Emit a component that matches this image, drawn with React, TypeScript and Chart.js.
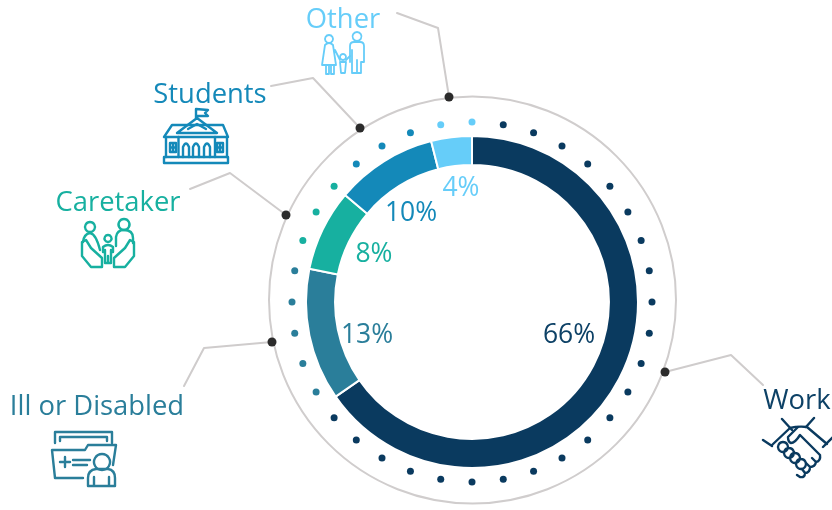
import React, { useEffect, useRef } from "react";
import { Chart, registerables } from "chart.js";

Chart.register(...registerables);

const categories = ["Work", "Ill or Disabled", "Caretaker", "Students", "Other"];
const shares = [66, 13, 8, 10, 4];
const shareLabels = ["66%", "13%", "8%", "10%", "4%"];
const colors = ["#0a3a5f", "#2a7e9a", "#17b0a0", "#1489b9", "#66cdf9"];
const textColors = ["#0d4166", "#2a7e9a", "#17b0a0", "#1489b9", "#66cdf9"];
const dotsPerCategory = [23, 5, 3, 3, 2];

const SIZE_W = 832;
const SIZE_H = 510;
const FONT = '"Open Sans"';

const dotSpokes = Array.from({ length: 36 }, (_, i) => `${i * 10}`);
const dotColors: string[] = [colors[4]];
dotsPerCategory.forEach((n, c) => {
  const count = c === 4 ? 1 : n;
  for (let i = 0; i < count; i++) dotColors.push(colors[c]);
});

const categoryLabelPos = [
  [797, 409],
  [97, 415],
  [118, 211],
  [210, 103],
  [343, 28],
];
const shareLabelPos = [
  [569, 343],
  [367, 343],
  [374, 262],
  [411, 221],
  [461, 196],
];
const leaders = [
  [[665, 372], [731, 355], [763, 385]],
  [[272, 342], [204, 348], [184, 386]],
  [[286, 215], [230, 173], [190, 189]],
  [[360, 128], [313, 78], [271, 86]],
  [[449, 97], [438, 28], [397, 13]],
];
const icons: string[][] = [
  [
    "M763,440 L772,446 M782,419 L792,430 M814,418 L806,427 M835,435 L823,447",
    "M772,445 L790,428 Q798,426 807,427 L827,444",
    "M798,427 L788,437 Q788,442 791,443 Q795,443 800,435 L820,455 Q821,461 816,462 L812,458 M816,462 Q815,467 810,467 L806,463 M810,467 Q810,473 805,473 L802,469 M805,473 Q805,478 800,477 L797,475",
    "M783,452 A5,5 0 1 0 782.99,452 Z M789,458 A5,5 0 1 0 788.99,458 Z M795,463 A5,5 0 1 0 794.99,463 Z M801,469 A5,5 0 1 0 800.99,469 Z",
  ],
  [
    "M55,443 L55,432 L112,432 L112,443 M60,441 L60,437 L107,437 L107,441",
    "M83,478 L55,478 L52,450 L85,450 L88,445 L116,445 L113,465",
    "M60,462 L70,462 M65,457 L65,467 M73,460 L90,460 M73,465 L87,465",
    "M102,454 A8,8 0 1 0 102.01,454 Z",
    "M88,486 L88,478 Q88,470 96,469 L108,469 Q115,470 115,478 L115,486 Z M94,486 L94,477 M109,486 L109,477",
  ],
  [
    "M90,222 A5,5 0 1 0 90.01,222 Z M124,219 A5.5,5.5 0 1 0 124.01,219 Z M108,235 A3.5,3.5 0 1 0 108.01,235 Z",
    "M83,242 Q84,234 90,233 Q96,234 100,250 M116,246 L116,237 Q117,230 124,230 Q133,230 133,238 L133,243",
    "M103,252 L103,247 Q108,243 113,247 L113,252 M105,250 L105,263 L111,263 L111,250 M108,256 L108,263",
    "M86,240 L91,248 L102,258 L102,267 L91,267 L82,256 L82,242 L86,240 Z",
    "M130,240 L125,248 L114,258 L114,267 L125,267 L134,256 L134,242 L130,240 Z",
  ],
  [
    "M164,157 L228,157 L228,163 L164,163 Z",
    "M166,137 L166,157 M227,137 L227,157 M164,137 L178,137 L215,137 L228,137 L223,125 L172,125 Z",
    "M177,133 L197,118 L217,133 Z M188,129 L197,124 L206,129 M196,118 L196,109 L208,110 L205,113 L208,116 L196,116",
    "M178.5,137 L178.5,157 M215,137 L215,157",
    "M183,157 L183,147 Q186,140 189,147 L189,157 M193,157 L193,147 Q196,140 199,147 L199,157 M204,157 L204,147 Q207,140 210,147 L210,157",
    "M170,143 L176,143 L176,152 L170,152 Z M173,143 L173,152 M170,147.5 L176,147.5 M217,143 L223,143 L223,152 L217,152 Z M220,143 L220,152 M217,147.5 L223,147.5",
  ],
  [
    "M329,35 A4,4 0 1 0 329.01,35 Z M357,32 A4.5,4.5 0 1 0 357.01,32 Z M343,54 A3,3 0 1 0 343.01,54 Z",
    "M325,45 L322,65 L336,65 L333,45 Q329,41 325,45 Z M326,65 L326,74 L329,74 L329,65 M331,65 L331,74 L334,74 L334,65 M335,50 L340,60",
    "M350,62 L350,46 Q350,42 354,42 L360,42 Q364,42 364,46 L364,62 L361,62 L361,73 L352,73 L352,50 M357,60 L357,73",
    "M346,60 L350,56 M340,62 L346,62 L345,73 L341,73 Z",
  ],
];

const outerRing = {
  id: "outerRing",
  beforeDatasetsDraw(chart: any) {
    const { ctx } = chart;
    ctx.save();
    ctx.strokeStyle = "#d0cdcd";
    ctx.lineWidth = 2;
    ctx.beginPath();
    ctx.arc(472.5, 300, 203.5, 0, Math.PI * 2);
    ctx.stroke();
    ctx.restore();
  },
};

const overlay = {
  id: "overlay",
  afterDatasetsDraw(chart: any) {
    const { ctx } = chart;
    ctx.save();
    ctx.lineCap = "round";
    ctx.lineJoin = "round";

    leaders.forEach((pts) => {
      ctx.strokeStyle = "#cfcccc";
      ctx.lineWidth = 2;
      ctx.beginPath();
      pts.forEach(([x, y], i) => (i ? ctx.lineTo(x, y) : ctx.moveTo(x, y)));
      ctx.stroke();
      ctx.fillStyle = "#2b2b2b";
      ctx.beginPath();
      ctx.arc(pts[0][0], pts[0][1], 4.5, 0, Math.PI * 2);
      ctx.fill();
    });

    ctx.textAlign = "center";
    ctx.textBaseline = "alphabetic";
    categories.forEach((name, i) => {
      ctx.fillStyle = textColors[i];
      ctx.font = `27.4px ${FONT}`;
      ctx.fillText(name, categoryLabelPos[i][0], categoryLabelPos[i][1]);
      ctx.font = `26.5px ${FONT}`;
      ctx.fillText(shareLabels[i], shareLabelPos[i][0], shareLabelPos[i][1]);
    });

    icons.forEach((group, i) => {
      ctx.strokeStyle = colors[i];
      ctx.lineWidth = i === 4 ? 1.8 : 2.4;
      group.forEach((d) => ctx.stroke(new Path2D(d)));
    });
    ctx.restore();
  },
};

export default function App() {
  const ref = useRef<HTMLCanvasElement>(null);
  useEffect(() => {
    const chart = new Chart(ref.current as HTMLCanvasElement, {
      type: "radar",
      plugins: [outerRing, overlay],
      data: {
        labels: dotSpokes,
        datasets: [
          {
            type: "doughnut",
            data: shares,
            backgroundColor: colors,
            borderColor: "#ffffff",
            borderWidth: 2,
            radius: 166,
            cutout: "82.5%",
          } as any,
          {
            type: "radar",
            data: dotSpokes.map(() => 180),
            weight: 0,
            showLine: false,
            fill: false,
            pointRadius: 3.5,
            pointBorderWidth: 0,
            pointBackgroundColor: dotColors,
          } as any,
        ],
      },
      options: {
        responsive: false,
        animation: false,
        events: [],
        layout: { padding: { left: 266, right: 154, top: 97, bottom: 3 } },
        plugins: { legend: { display: false }, tooltip: { enabled: false } },
        scales: {
          r: {
            min: 0,
            max: 205,
            ticks: { display: false },
            pointLabels: { display: false },
            angleLines: { display: false },
            grid: { display: false },
            border: { display: false },
          },
        },
      } as any,
    });
    return () => chart.destroy();
  }, []);
  return (
    <div style={{ position: "absolute", left: 0, top: 0, width: SIZE_W, height: SIZE_H }}>
      <canvas ref={ref} width={SIZE_W} height={SIZE_H} style={{ display: "block" }} />
    </div>
  );
}
